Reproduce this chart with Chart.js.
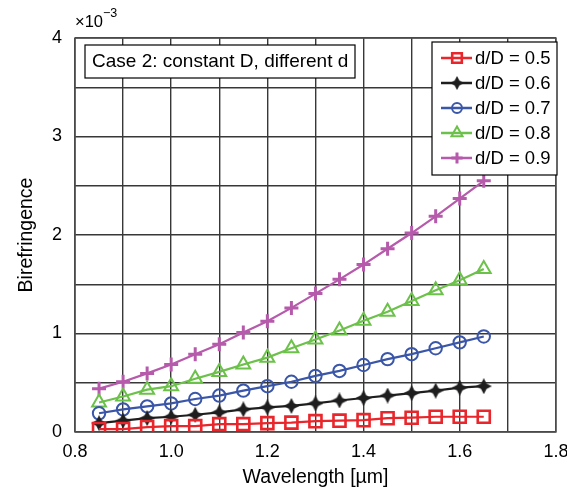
<!DOCTYPE html>
<html>
<head>
<meta charset="utf-8">
<script src="https://cdn.jsdelivr.net/npm/chart.js@4.4.0/dist/chart.umd.min.js"></script>
<style>
    html, body { margin: 0; padding: 0; background: #fff; }
    #myChart { display: block; }
</style>
</head>
<body>
<canvas id="myChart" width="567" height="490" style="width:567px;height:490px"></canvas>
<script>
// wavelength in um, birefringence in units of 1e-3
const wavelengths = [0.85, 0.9, 0.95, 1.0, 1.05, 1.1, 1.15, 1.2, 1.25, 1.3, 1.35, 1.4, 1.45, 1.5, 1.55, 1.6, 1.65];
const ratio05 = [0.03, 0.03, 0.05, 0.06, 0.06, 0.08, 0.08, 0.09, 0.095, 0.11, 0.115, 0.12, 0.14, 0.145, 0.155, 0.155, 0.155];
const ratio06 = [0.09, 0.115, 0.14, 0.155, 0.175, 0.20, 0.23, 0.25, 0.265, 0.29, 0.32, 0.345, 0.37, 0.395, 0.42, 0.45, 0.465];
const ratio07 = [0.19, 0.23, 0.26, 0.29, 0.335, 0.37, 0.42, 0.465, 0.51, 0.57, 0.62, 0.68, 0.74, 0.79, 0.85, 0.91, 0.97];
const ratio08 = [0.30, 0.36, 0.43, 0.465, 0.54, 0.61, 0.685, 0.755, 0.85, 0.94, 1.03, 1.13, 1.22, 1.33, 1.44, 1.54, 1.655];
const ratio09 = [0.44, 0.51, 0.595, 0.685, 0.79, 0.89, 1.01, 1.125, 1.26, 1.405, 1.55, 1.70, 1.86, 2.02, 2.19, 2.37, 2.55];
const seriesLabels = ['d/D = 0.5', 'd/D = 0.6', 'd/D = 0.7', 'd/D = 0.8', 'd/D = 0.9'];
const noteText = 'Case 2: constant D, different d';

const FONT = '"Liberation Sans", Arial, sans-serif';

function points(values) {
    return wavelengths.map((w, i) => ({x: w, y: values[i]}));
}

// filled four-pointed star marker
function starMarker(size, color) {
    const c = document.createElement('canvas');
    c.width = size;
    c.height = size;
    const g = c.getContext('2d');
    const r = size / 2, ri = r * 0.48;
    g.beginPath();
    for (let k = 0; k < 8; k++) {
        const ang = k * Math.PI / 4 - Math.PI / 2;
        const rr = k % 2 === 0 ? r : ri;
        g.lineTo(r + rr * Math.cos(ang), r + rr * Math.sin(ang));
    }
    g.closePath();
    g.fillStyle = color;
    g.fill();
    return c;
}

const star = starMarker(16, '#1e1e1e');

const styles = [
    {color: '#e8262b', pointStyle: 'rect', radius: 8.5, borderWidth: 2.6},
    {color: '#1e1e1e', pointStyle: star, radius: 8, borderWidth: 1},
    {color: '#3a56a8', pointStyle: 'circle', radius: 6.2, borderWidth: 2},
    {color: '#6cc14a', pointStyle: 'triangle', radius: 8, borderWidth: 2},
    {color: '#b65aab', pointStyle: 'cross', radius: 7, borderWidth: 3}
];

const allSeries = [ratio05, ratio06, ratio07, ratio08, ratio09];

const data = {
    datasets: allSeries.map((values, i) => ({
        label: seriesLabels[i],
        data: points(values),
        borderColor: styles[i].color,
        backgroundColor: styles[i].color,
        borderWidth: 2.2,
        pointStyle: styles[i].pointStyle,
        pointRadius: styles[i].radius,
        pointBorderWidth: styles[i].borderWidth,
        pointBorderColor: styles[i].color,
        pointBackgroundColor: 'rgba(0,0,0,0)',
        tension: 0
    }))
};

const overlay = {
    id: 'overlay',
    afterDraw(chart) {
        const {ctx, chartArea: a} = chart;
        ctx.save();

        // plot frame
        ctx.strokeStyle = '#505050';
        ctx.lineWidth = 1.5;
        ctx.strokeRect(a.left, a.top, a.right - a.left, a.bottom - a.top);

        // exponent
        ctx.fillStyle = '#000';
        ctx.textBaseline = 'alphabetic';
        ctx.textAlign = 'left';
        ctx.font = '16.5px ' + FONT;
        ctx.fillText('×10', 75, 27);
        const w = ctx.measureText('×10').width;
        ctx.font = '12.5px ' + FONT;
        ctx.fillText('−3', 75 + w, 17);

        // note box
        ctx.fillStyle = '#fff';
        ctx.fillRect(85, 45, 270, 33);
        ctx.strokeStyle = '#000';
        ctx.lineWidth = 1.2;
        ctx.strokeRect(85, 45, 270, 33);
        ctx.fillStyle = '#000';
        ctx.font = '19px ' + FONT;
        ctx.textBaseline = 'middle';
        ctx.fillText(noteText, 92, 62);

        // legend
        const lx = 432, ly = 42, lw = 125, lh = 133;
        ctx.fillStyle = '#fff';
        ctx.fillRect(lx, ly, lw, lh);
        ctx.strokeRect(lx, ly, lw, lh);
        ctx.font = '18.5px ' + FONT;
        seriesLabels.forEach((label, i) => {
            const y = 58 + i * 25;
            const s = styles[i];
            ctx.strokeStyle = s.color;
            ctx.lineWidth = 2.5;
            ctx.beginPath();
            ctx.moveTo(441, y);
            ctx.lineTo(472, y);
            ctx.stroke();
            ctx.fillStyle = 'rgba(0,0,0,0)';
            ctx.lineWidth = s.borderWidth;
            if (typeof s.pointStyle === 'string') {
                Chart.helpers.drawPoint(ctx, {
                    pointStyle: s.pointStyle,
                    radius: s.radius * 0.8,
                    rotation: 0,
                    borderWidth: s.borderWidth
                }, 457, y);
            } else {
                ctx.drawImage(s.pointStyle, 457 - 7, y - 7, 14, 14);
            }
            ctx.fillStyle = '#000';
            ctx.fillText(label, 475, y + 1);
        });

        ctx.restore();
    }
};

const options = {
    responsive: false,
    animation: false,
    layout: {
        padding: {top: 38, right: 9, left: 0, bottom: 0}
    },
    plugins: {
        legend: {display: false},
        tooltip: {enabled: false}
    },
    scales: {
        x: {
            type: 'linear',
            min: 0.8,
            max: 1.8,
            grid: {
                color: '#383838',
                lineWidth: 1.4,
                drawTicks: false
            },
            border: {display: false},
            ticks: {
                stepSize: 0.1,
                autoSkip: false,
                maxRotation: 0,
                padding: 9,
                color: '#000',
                font: {family: FONT, size: 18},
                callback: function (val) {
                    return Math.round(val * 10) % 2 === 0 ? val.toFixed(1) : '';
                }
            },
            title: {
                display: true,
                text: 'Wavelength [µm]',
                color: '#000',
                font: {family: FONT, size: 19.5},
                padding: {top: 0, bottom: 1}
            },
            afterFit: function (scale) {
                scale.height = 58;
                scale.paddingLeft = 0;
                scale.paddingRight = 0;
            }
        },
        y: {
            min: 0,
            max: 4,
            grid: {
                color: '#383838',
                lineWidth: 1.4,
                drawTicks: false
            },
            border: {display: false},
            ticks: {
                stepSize: 0.5,
                autoSkip: false,
                padding: 13,
                color: '#000',
                font: {family: FONT, size: 18},
                callback: function (val) {
                    return Number.isInteger(val) ? String(val) : '';
                }
            },
            title: {
                display: true,
                text: 'Birefringence',
                color: '#000',
                font: {family: FONT, size: 19.5},
                padding: {top: 15, bottom: 0}
            },
            afterFit: function (scale) {
                scale.width = 75;
                scale.paddingTop = 0;
                scale.paddingBottom = 0;
            }
        }
    }
};

new Chart(document.getElementById('myChart'), {
    type: 'line',
    data: data,
    options: options,
    plugins: [overlay]
});
</script>
</body>
</html>
